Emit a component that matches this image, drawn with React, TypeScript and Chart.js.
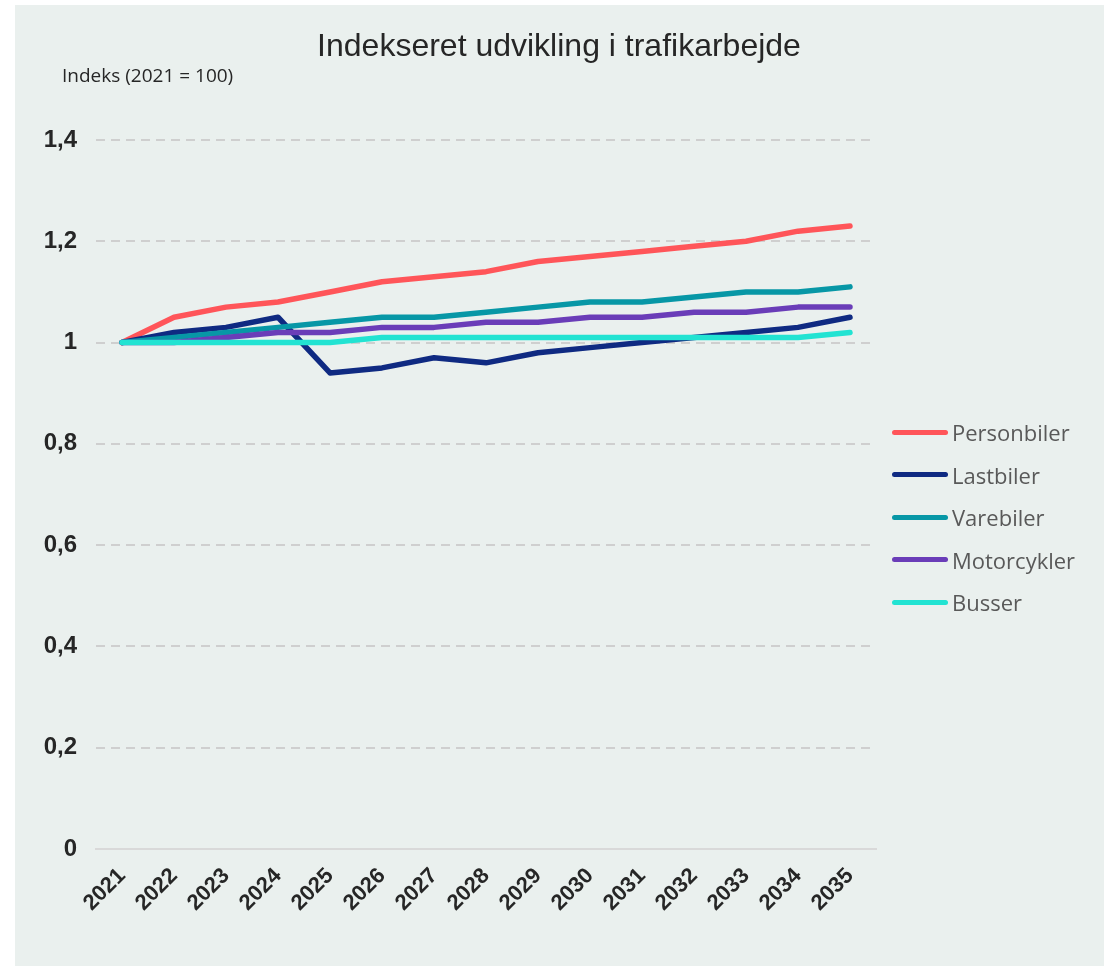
import React, { useEffect, useRef } from "react";
import { Chart, registerables } from "chart.js";

Chart.register(...registerables);

const years = ["2021","2022","2023","2024","2025","2026","2027","2028","2029","2030","2031","2032","2033","2034","2035"];
const personbiler = [1.0,1.05,1.07,1.08,1.10,1.12,1.13,1.14,1.16,1.17,1.18,1.19,1.20,1.22,1.23];
const lastbiler = [1.0,1.02,1.03,1.05,0.94,0.95,0.97,0.96,0.98,0.99,1.00,1.01,1.02,1.03,1.05];
const varebiler = [1.0,1.01,1.02,1.03,1.04,1.05,1.05,1.06,1.07,1.08,1.08,1.09,1.10,1.10,1.11];
const motorcykler = [1.0,1.00,1.01,1.02,1.02,1.03,1.03,1.04,1.04,1.05,1.05,1.06,1.06,1.07,1.07];
const busser = [1.0,1.00,1.00,1.00,1.00,1.01,1.01,1.01,1.01,1.01,1.01,1.01,1.01,1.01,1.02];
const seriesNames = ["Personbiler","Lastbiler","Varebiler","Motorcykler","Busser"];
const seriesColors = ["#FF5559","#0F2A82","#0797A6","#6A3DB8","#22E3D2"];
const seriesValues = [personbiler, lastbiler, varebiler, motorcykler, busser];

const title = "Indekseret udvikling i trafikarbejde";
const yAxisTitle = "Indeks (2021 = 100)";

export default function App() {
  const ref = useRef<HTMLCanvasElement>(null);
  useEffect(() => {
    if (!ref.current) return;
    const chart = new Chart(ref.current, {
      type: "line",
      data: {
        labels: years,
        datasets: seriesNames.map((name, i) => ({
          label: name,
          data: seriesValues[i],
          borderColor: seriesColors[i],
          backgroundColor: seriesColors[i],
          borderWidth: 5.5,
          borderCapStyle: "round",
          borderJoinStyle: "round",
          pointRadius: 0,
          pointHoverRadius: 0,
          tension: 0,
          fill: false,
          order: seriesNames.length - i,
        })),
      },
      options: {
        responsive: false,
        animation: false,
        events: [],
        layout: { padding: { left: 15, right: 230, top: 140, bottom: 0 } },
        plugins: {
          legend: { display: false },
          title: { display: false },
          tooltip: { enabled: false },
        },
        scales: {
          x: {
            offset: true,
            grid: { display: true, drawOnChartArea: false, drawTicks: false },
            border: { display: true, color: "#D9D9D9", width: 2 },
            ticks: {
              autoSkip: false,
              minRotation: 45,
              maxRotation: 45,
              padding: 14,
              color: "#262626",
              font: { family: "'Liberation Sans', Arial, sans-serif", size: 22, weight: "bold" },
            },
            afterFit: (scale: any) => { scale.height = 117; },
          },
          y: {
            min: 0,
            max: 1.4,
            ticks: {
              stepSize: 0.2,
              padding: 19,
              color: "#262626",
              font: { family: "'Liberation Sans', Arial, sans-serif", size: 24, weight: "bold" },
              callback: (v: any) => String(Number(Number(v).toFixed(1))).replace(".", ","),
            },
            grid: {
              drawTicks: false,
              lineWidth: 2,
              color: (ctx: any) => (ctx.tick && ctx.tick.value === 0 ? "rgba(0,0,0,0)" : "#CFCFCF"),
            },
            border: { display: false, dash: [9, 6] },
            afterFit: (scale: any) => { scale.width = 81; },
          },
        },
      },
    });
    return () => chart.destroy();
  }, []);

  return (
    <div style={{ position: "absolute", left: 0, top: 0, width: 1106, height: 966, background: "#FFFFFF", overflow: "hidden" }}>
      <div style={{ position: "absolute", left: 15, top: 5, width: 1089, height: 961, background: "#EAF0EE" }} />
      <canvas ref={ref} width={1106} height={966} style={{ position: "absolute", left: 0, top: 0 }} />
      <div style={{ position: "absolute", left: 259, top: 29, width: 600, textAlign: "center", fontFamily: "'Liberation Sans', Arial, sans-serif", fontSize: 32, lineHeight: "32px", color: "#262626", whiteSpace: "nowrap" }}>{title}</div>
      <div style={{ position: "absolute", left: 62, top: 66, fontFamily: "'Open Sans', sans-serif", fontSize: 19, lineHeight: "18px", color: "#262626", whiteSpace: "nowrap" }}>{yAxisTitle}</div>
      <div style={{ position: "absolute", left: 892, top: 411, width: 214 }}>
        {seriesNames.map((name, i) => (
          <div key={name} style={{ display: "flex", alignItems: "center", height: 42.5 }}>
            <div style={{ width: 56, height: 5, borderRadius: 3, background: seriesColors[i], marginRight: 4 }} />
            <span style={{ fontFamily: "'Open Sans', sans-serif", fontSize: 22, lineHeight: "24px", color: "#595959", whiteSpace: "nowrap" }}>{name}</span>
          </div>
        ))}
      </div>
    </div>
  );
}
